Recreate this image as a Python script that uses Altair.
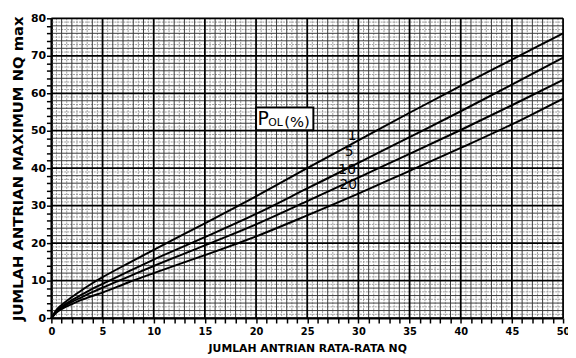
import altair as alt
import pandas as pd

# ---- data ----
nq = [0, 0.5, 1, 2, 3, 4, 5, 7.5, 10, 15, 20, 25, 30, 35, 40, 45, 50]
pol_1 = [0, 2.2, 3.5, 5.6, 7.5, 9.3, 10.9, 14.6, 18.2, 25.3, 32.5, 40.0, 47.4, 54.8, 62.0, 69.0, 76.0]
pol_5 = [0, 1.9, 3.0, 4.8, 6.3, 7.8, 9.1, 12.4, 15.6, 21.6, 27.8, 34.6, 41.4, 48.3, 55.2, 62.3, 69.5]
pol_10 = [0, 1.7, 2.7, 4.3, 5.6, 6.9, 8.1, 11.0, 13.9, 19.4, 25.0, 31.2, 37.5, 43.8, 50.2, 56.8, 63.6]
pol_20 = [0, 1.5, 2.4, 3.7, 4.9, 5.9, 6.8, 9.5, 12.0, 16.8, 21.8, 27.4, 33.2, 39.3, 45.4, 51.7, 58.6]
series_names = ["1", "5", "10", "20"]

label_text = ["1", "5", "10", "20"]
label_x = [29.4, 29.1, 28.9, 29.0]
label_y = [48.7, 44.3, 39.6, 35.6]

box_x = [20.0, 25.6]
box_y = [50.1, 56.2]

x_major = list(range(0, 51, 5))
y_major = list(range(0, 81, 10))
x_minor = [i for i in range(51) if i % 5]
y_minor = [i for i in range(0, 81, 2) if i % 10]
x_fine = [i + 0.5 for i in range(50)]
y_fine = list(range(1, 80, 2))

# ---- tables ----
rows = []
for name, vals in zip(series_names, [pol_1, pol_5, pol_10, pol_20]):
    for xv, yv in zip(nq, vals):
        rows.append({"nq": xv, "nqmax": yv, "pol": name})
curves = pd.DataFrame(rows)
labels = pd.DataFrame({"t": label_text, "x": label_x, "y": label_y})
box = pd.DataFrame({"x": [box_x[0]], "x2": [box_x[1]], "y": [box_y[0]], "y2": [box_y[1]]})
title_parts = pd.DataFrame({
    "t": ["P", "OL", "(%)"],
    "x": [20.7, 21.9, 24.0],
    "y": [51.6, 51.2, 50.9],
    "size": [19, 11, 15],
})

xs = alt.Scale(domain=[0, 50], nice=False, zero=True)
ys = alt.Scale(domain=[0, 80], nice=False, zero=True)
FONT = "DejaVu Sans"

xaxis = alt.Axis(
    values=list(range(51)),
    labelExpr="datum.value % 5 == 0 ? datum.label : ''",
    grid=False, domainColor="black", domainWidth=2,
    tickColor="black", tickWidth=1.5, tickSize=5,
    labelFont=FONT, labelFontWeight="bold", labelFontSize=10, labelColor="black",
    labelPadding=4, labelFlush=False, labelOverlap=False,
    title="JUMLAH ANTRIAN RATA-RATA NQ", titleFont=FONT, titleFontSize=11,
    titleFontWeight="bold", titleColor="black", titlePadding=6,
)
yaxis = alt.Axis(
    values=list(range(0, 81, 2)),
    labelExpr="datum.value % 10 == 0 ? datum.label : ''",
    grid=False, domainColor="black", domainWidth=2,
    tickColor="black", tickWidth=1.5, tickSize=5,
    labelFont=FONT, labelFontWeight="bold", labelFontSize=11, labelColor="black",
    labelPadding=1, labelFlush=False, labelOverlap=False,
    title="JUMLAH ANTRIAN MAXIMUM NQ max", titleFont=FONT, titleFontSize=15,
    titleFontWeight="bold", titleColor="black", titlePadding=5,
)


def X(f):
    return alt.X(f, type="quantitative", scale=xs, axis=xaxis)


def Y(f):
    return alt.Y(f, type="quantitative", scale=ys, axis=yaxis)


def vrules(vals, color, width, dash=None):
    kw = dict(color=color, strokeWidth=width)
    if dash:
        kw["strokeDash"] = dash
    return alt.Chart(pd.DataFrame({"v": vals})).mark_rule(**kw).encode(x=X("v"))


def hrules(vals, color, width, dash=None):
    kw = dict(color=color, strokeWidth=width)
    if dash:
        kw["strokeDash"] = dash
    return alt.Chart(pd.DataFrame({"v": vals})).mark_rule(**kw).encode(y=Y("v"))


grid = [
    vrules(x_fine, "#9a9a9a", 1, [2, 1]),
    hrules(y_fine, "#9a9a9a", 1, [2, 1]),
    vrules(x_minor, "#3a3a3a", 1),
    hrules(y_minor, "#3a3a3a", 1),
    vrules(x_major, "black", 1.8),
    hrules(y_major, "black", 1.8),
]

lines = alt.Chart(curves).mark_line(color="black", strokeWidth=2, interpolate="monotone").encode(
    x=X("nq"), y=Y("nqmax"), detail="pol:N"
)

lab = alt.Chart(labels).mark_text(font=FONT, fontSize=14, color="black", baseline="middle").encode(
    x=X("x"), y=Y("y"), text="t:N"
)

rect = alt.Chart(box).mark_rect(fill="white", stroke="black", strokeWidth=2).encode(
    x=X("x"), x2="x2", y=Y("y"), y2="y2"
)

ttl = alt.Chart(title_parts).mark_text(font=FONT, color="black", baseline="alphabetic").encode(
    x=X("x"), y=Y("y"), text="t:N", size=alt.Size("size:Q", scale=None, legend=None)
)

chart = alt.layer(*grid, lines, lab, rect, ttl).properties(
    width=519, height=304,
    autosize=alt.AutoSizeParams(type="none"),
    padding={"left": 44, "top": 8, "right": 5, "bottom": 36},
).configure_view(stroke=None).configure(background="white")

chart.save("out.html", embed_options={"renderer": "svg", "actions": False})
